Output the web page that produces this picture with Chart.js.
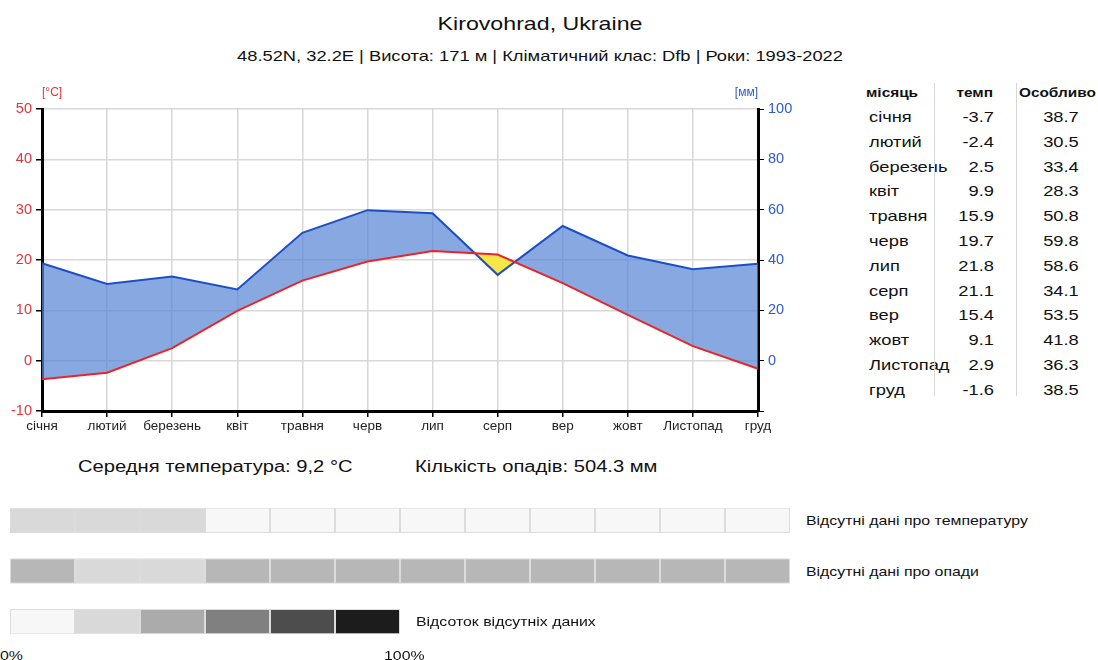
<!DOCTYPE html>
<html>
<head>
<meta charset="utf-8">
<script src="https://cdn.jsdelivr.net/npm/chart.js@4"></script>
<style>
  body { margin: 0; background: #fff; font-family: "Liberation Sans", Arial, sans-serif; color: #111; }
  #page { position: relative; width: 1098px; height: 660px; overflow: hidden; }
  .abs { position: absolute; white-space: nowrap; transform-origin: left center; transform: scaleX(1.22); }
  .mid { transform-origin: center center; }
  .rgt { transform-origin: right center; }
  #climate { position: absolute; left: 0; top: 80px; }
  #missing { position: absolute; left: 10px; top: 495px; }
  .sep { position: absolute; width: 1px; background: #d8d8d8; top: 83px; height: 313px; }
</style>
</head>
<body>
<div id="page">
  <div class="abs mid" style="left:0;width:1080px;top:13px;text-align:center;font-size:19px;">Kirovohrad, Ukraine</div>
  <div class="abs mid" style="left:0;width:1080px;top:47px;text-align:center;font-size:15px;">48.52N, 32.2E | Висота: 171 м | Кліматичний клас: Dfb | Роки: 1993-2022</div>
  <canvas id="climate" width="800" height="360"></canvas>
  <div id="table"></div>
  <div class="sep" style="left:934px"></div>
  <div class="sep" style="left:1016px"></div>
  <div id="summary"></div>
  <canvas id="missing" width="780" height="152"></canvas>
  <div class="abs" style="left:806px;top:513px;font-size:13px;">Відсутні дані про температуру</div>
  <div class="abs" style="left:806px;top:564px;font-size:13px;">Відсутні дані про опади</div>
  <div class="abs" style="left:416px;top:614px;font-size:13px;">Відсоток відсутніх даних</div>
  <div class="abs" style="left:0px;top:648px;font-size:13px;">0%</div>
  <div class="abs" style="left:384px;top:648px;font-size:13px;">100%</div>
</div>
<script>
const months = ['січня', 'лютий', 'березень', 'квіт', 'травня', 'черв', 'лип', 'серп', 'вер', 'жовт', 'Листопад', 'груд'];
const temperature = [-3.7, -2.4, 2.5, 9.9, 15.9, 19.7, 21.8, 21.1, 15.4, 9.1, 2.9, -1.6];
const precipitation = [38.7, 30.5, 33.4, 28.3, 50.8, 59.8, 58.6, 34.1, 53.5, 41.8, 36.3, 38.5];
const tableHeaders = ['місяць', 'темп', 'Особливо'];
const meanTemp = '9,2';
const totalPrecip = '504.3';

// missing data, percent per month
const tempMissing = [20, 20, 20, 0, 0, 0, 0, 0, 0, 0, 0, 0];
const precipMissing = [35, 20, 20, 35, 35, 35, 35, 35, 35, 35, 35, 35];
const legendSteps = [0, 20, 40, 60, 80, 100];
const legendGrays = [247, 217, 171, 128, 77, 28];

// side table
const tbl = document.getElementById('table');
function put(text, left, top, style, cls) {
  const d = document.createElement('div');
  d.className = 'abs' + (cls ? ' ' + cls : '');
  d.textContent = text;
  d.style.left = left + 'px';
  d.style.top = top + 'px';
  d.style.cssText += style || '';
  tbl.appendChild(d);
}
put(tableHeaders[0], 866, 86, 'font-size:12px;font-weight:bold;transform:scaleX(1.28);');
put(tableHeaders[1], 943, 86, 'font-size:12px;font-weight:bold;width:50px;text-align:right;transform:scaleX(1.28);', 'rgt');
put(tableHeaders[2], 1019, 86, 'font-size:12px;font-weight:bold;transform:scaleX(1.28);');
for (let i = 0; i < months.length; i++) {
  const y = 108 + i * 24.8;
  put(months[i], 869, y, 'font-size:15px;');
  put(temperature[i].toFixed(1), 943, y, 'font-size:15px;width:51px;text-align:right;', 'rgt');
  put(precipitation[i].toFixed(1), 1030, y, 'font-size:15px;width:62px;text-align:center;', 'mid');
}

document.getElementById('summary').innerHTML =
  '<div class="abs" style="left:78px;top:458px;font-size:16px;transform:scaleX(1.26);">Середня температура: ' + meanTemp + ' °C</div>' +
  '<div class="abs" style="left:415px;top:458px;font-size:16px;transform:scaleX(1.26);">Кількість опадів: ' + totalPrecip + ' мм</div>';

const axisUnits = {
  id: 'axisUnits',
  afterDraw(chart) {
    const {ctx, chartArea} = chart;
    ctx.save();
    ctx.font = '12px "Liberation Sans", Arial, sans-serif';
    ctx.textBaseline = 'middle';
    ctx.fillStyle = '#e8333a';
    ctx.textAlign = 'left';
    ctx.fillText('[°C]', chartArea.left, chartArea.top - 16);
    ctx.fillStyle = '#2a5bd0';
    ctx.textAlign = 'right';
    ctx.fillText('[мм]', chartArea.right, chartArea.top - 16);
    ctx.restore();
  }
};

new Chart(document.getElementById('climate'), {
  type: 'line',
  data: {
    labels: months,
    datasets: [{
      label: 'темп',
      data: temperature,
      yAxisID: 'y',
      borderColor: '#e8262a',
      borderWidth: 2,
      pointRadius: 0,
      fill: false
    }, {
      label: 'опади',
      data: precipitation,
      yAxisID: 'y2',
      borderColor: '#1d4fc4',
      borderWidth: 2,
      pointRadius: 0,
      fill: {target: 0, above: 'rgba(90,135,215,0.72)', below: '#f7e645'}
    }]
  },
  options: {
    responsive: false,
    animation: false,
    layout: {padding: {top: 29}},
    plugins: {legend: {display: false}, tooltip: {enabled: false}},
    scales: {
      x: {
        grid: {color: '#d8d8d8', lineWidth: 1.5, tickColor: '#000', tickLength: 6},
        border: {color: '#000', width: 3},
        ticks: {color: '#222', font: {size: 13.5}, padding: 1, maxRotation: 0, autoSkip: false},
        afterFit(scale) { scale.height = 29; }
      },
      y: {
        position: 'left',
        min: -10, max: 50,
        grid: {color: '#d8d8d8', lineWidth: 1.5, tickColor: '#000', tickLength: 6},
        border: {color: '#000', width: 3},
        ticks: {stepSize: 10, color: '#e8333a', font: {size: 14.5}, padding: 4},
        afterFit(scale) { scale.width = 42; }
      },
      y2: {
        position: 'right',
        min: -20, max: 100,
        grid: {drawOnChartArea: false, tickColor: '#000', tickLength: 6},
        border: {color: '#000', width: 3},
        ticks: {
          stepSize: 20, color: '#2a5bd0', font: {size: 14.5}, padding: 4,
          callback: v => v < 0 ? '' : v
        },
        afterFit(scale) { scale.width = 42; }
      }
    }
  },
  plugins: [axisUnits]
});

// missing-data strips
function grayFor(pct) {
  for (let k = 1; k < legendSteps.length; k++) {
    if (pct <= legendSteps[k]) {
      const t = (pct - legendSteps[k - 1]) / (legendSteps[k] - legendSteps[k - 1]);
      const g = Math.round(legendGrays[k - 1] + t * (legendGrays[k] - legendGrays[k - 1]));
      return `rgb(${g},${g},${g})`;
    }
  }
  return 'rgb(28,28,28)';
}
const stripSets = months.map((m, i) => ({
  label: m,
  data: [1, 1, i < legendSteps.length ? 1 : null],
  backgroundColor: [grayFor(tempMissing[i]), grayFor(precipMissing[i]),
    i < legendSteps.length ? grayFor(legendSteps[i]) : '#fff'],
  borderColor: '#dcdcdc',
  borderWidth: 1,
  borderSkipped: false,
  barPercentage: 0.5,
  categoryPercentage: 1
}));

new Chart(document.getElementById('missing'), {
  type: 'bar',
  data: {labels: ['temp', 'precip', 'legend'], datasets: stripSets},
  options: {
    indexAxis: 'y',
    responsive: false,
    animation: false,
    plugins: {legend: {display: false}, tooltip: {enabled: false}},
    scales: {
      x: {stacked: true, min: 0, max: 12, display: false},
      y: {stacked: true, display: false}
    }
  }
});
</script>
</body>
</html>
